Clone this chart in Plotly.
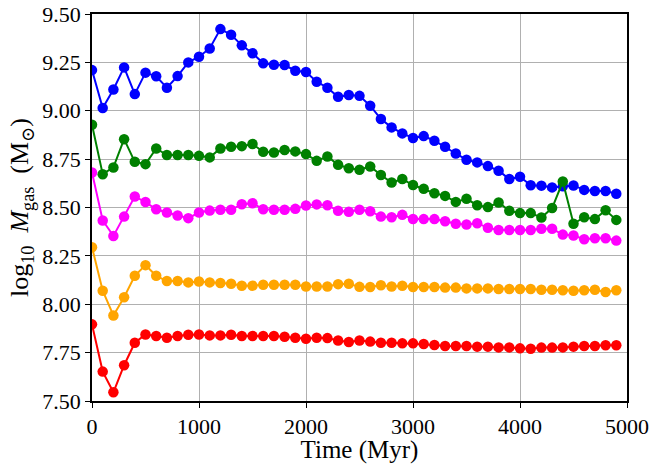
import plotly.graph_objects as go

time = [i * 100 for i in range(50)]

blue = [9.21, 9.014, 9.11, 9.224, 9.086, 9.197, 9.178, 9.119, 9.179, 9.25,
        9.279, 9.322, 9.422, 9.393, 9.338, 9.297, 9.245, 9.238, 9.236, 9.207,
        9.20, 9.15, 9.119, 9.072, 9.081, 9.077, 9.026, 8.957, 8.914, 8.883,
        8.859, 8.869, 8.845, 8.814, 8.779, 8.747, 8.733, 8.714, 8.69, 8.647,
        8.659, 8.615, 8.613, 8.604, 8.61, 8.614, 8.591, 8.585, 8.585, 8.571]

green = [8.928, 8.672, 8.707, 8.853, 8.736, 8.724, 8.805, 8.771, 8.771, 8.771,
         8.767, 8.759, 8.805, 8.814, 8.817, 8.828, 8.788, 8.784, 8.797, 8.790,
         8.776, 8.741, 8.764, 8.721, 8.703, 8.695, 8.712, 8.668, 8.629, 8.647,
         8.616, 8.597, 8.574, 8.560, 8.529, 8.545, 8.512, 8.502, 8.526, 8.483,
         8.471, 8.471, 8.448, 8.497, 8.634, 8.416, 8.45, 8.44, 8.486, 8.436]

magenta = [8.681, 8.433, 8.353, 8.453, 8.557, 8.528, 8.491, 8.474, 8.459, 8.445,
           8.474, 8.484, 8.488, 8.488, 8.517, 8.522, 8.491, 8.488, 8.488, 8.493,
           8.510, 8.516, 8.512, 8.483, 8.478, 8.488, 8.481, 8.453, 8.45, 8.462,
           8.441, 8.44, 8.44, 8.429, 8.416, 8.412, 8.419, 8.395, 8.384, 8.384,
           8.384, 8.384, 8.390, 8.390, 8.360, 8.355, 8.336, 8.341, 8.341, 8.329]

orange = [8.295, 8.07, 7.942, 8.036, 8.147, 8.202, 8.147, 8.12, 8.12, 8.113,
          8.118, 8.113, 8.11, 8.106, 8.096, 8.096, 8.101, 8.101, 8.101, 8.101,
          8.092, 8.092, 8.092, 8.104, 8.106, 8.09, 8.089, 8.098, 8.092, 8.096,
          8.089, 8.089, 8.089, 8.086, 8.086, 8.082, 8.082, 8.082, 8.079, 8.079,
          8.079, 8.079, 8.075, 8.075, 8.072, 8.07, 8.072, 8.075, 8.063, 8.072]

red = [7.896, 7.652, 7.545, 7.685, 7.801, 7.844, 7.836, 7.827, 7.836, 7.842,
       7.844, 7.839, 7.839, 7.842, 7.836, 7.836, 7.836, 7.836, 7.832, 7.827,
       7.822, 7.827, 7.825, 7.813, 7.805, 7.813, 7.807, 7.801, 7.801, 7.798,
       7.798, 7.795, 7.789, 7.784, 7.784, 7.784, 7.781, 7.781, 7.777, 7.777,
       7.772, 7.77, 7.776, 7.776, 7.777, 7.781, 7.784, 7.784, 7.788, 7.788]

series = [("blue", blue, "#0000ff"), ("green", green, "#008000"),
          ("magenta", magenta, "#ff00ff"), ("orange", orange, "#ffa500"),
          ("red", red, "#ff0000")]

x_ticks = [0, 1000, 2000, 3000, 4000, 5000]
y_ticks = [7.50, 7.75, 8.00, 8.25, 8.50, 8.75, 9.00, 9.25, 9.50]

fig = go.Figure()
for name, vals, col in series:
    fig.add_trace(go.Scatter(x=time, y=vals, mode="lines+markers", name=name,
                             line=dict(color=col, width=2),
                             marker=dict(color=col, size=10.5),
                             showlegend=False, cliponaxis=True))

font_family = "Liberation Serif, DejaVu Serif, serif"
fig.update_layout(
    width=653, height=464,
    margin=dict(l=92, r=26, t=14, b=63, autoexpand=False),
    paper_bgcolor="white", plot_bgcolor="white",
    font=dict(family=font_family, size=22, color="black"),
)
fig.update_xaxes(range=[0, 5000], tickvals=x_ticks,
                 ticktext=[str(v) for v in x_ticks], automargin=False,
                 showline=True, linecolor="black", linewidth=1.5, mirror=True,
                 ticks="outside", ticklen=5, tickcolor="black",
                 showgrid=True, gridcolor="#b0b0b0", gridwidth=1,
                 zeroline=False, tickfont=dict(size=22),
                 title=dict(text="Time (Myr)", standoff=0, font=dict(size=25)))
fig.update_yaxes(range=[7.5, 9.5], tickvals=y_ticks,
                 ticktext=["%.2f" % v for v in y_ticks], automargin=False,
                 showline=True, linecolor="black", linewidth=1.5, mirror=True,
                 ticks="outside", ticklen=5, tickcolor="black",
                 showgrid=True, gridcolor="#b0b0b0", gridwidth=1,
                 zeroline=False, tickfont=dict(size=22),
                 title=dict(text="log<sub>10</sub>\u2002<i>M</i><sub>gas</sub>\u2002(M<sub>⊙</sub>)",
                            standoff=6, font=dict(size=26)))

fig.write_html("out.html",
               config={"displayModeBar": False},
               post_script="document.body.style.margin='0';document.body.style.padding='0';")
